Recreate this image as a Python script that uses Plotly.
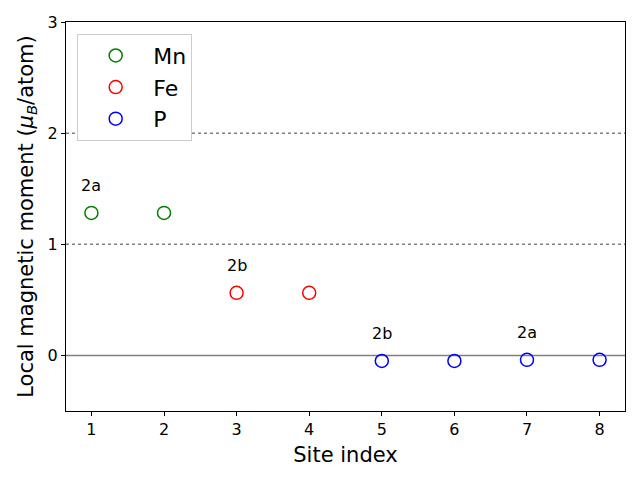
import plotly.graph_objects as go

mn_x = [1, 2]
mn_y = [1.282, 1.282]
fe_x = [3, 4]
fe_y = [0.563, 0.563]
p_x = [5, 6, 7, 8]
p_y = [-0.05, -0.05, -0.04, -0.04]

label_x = [1, 3, 5, 7]
label_y = [1.282, 0.563, -0.05, -0.04]
label_text = ["2a", "2b", "2b", "2a"]
label_offset = 0.25

fig = go.Figure()
for name, xs, ys, col in [("Mn", mn_x, mn_y, "green"), ("Fe", fe_x, fe_y, "red"), ("P", p_x, p_y, "blue")]:
    fig.add_trace(go.Scatter(x=xs, y=ys, mode="markers", name=name,
                             marker=dict(symbol="circle-open", size=13, color=col, line=dict(width=1.5, color=col))))

for lx, ly, lt in zip(label_x, label_y, label_text):
    fig.add_annotation(x=lx, y=ly + label_offset, text=lt, showarrow=False,
                       font=dict(size=16, color="black", family="DejaVu Sans"))

for yv, dash, w in [(0, "solid", 1.5), (1, "dot", 1.5), (2, "dot", 1.5)]:
    fig.add_shape(type="line", xref="paper", x0=0, x1=1, yref="y", y0=yv, y1=yv,
                  line=dict(color="gray", width=w, dash=dash), layer="below")

axis_common = dict(showline=True, linecolor="black", linewidth=1, mirror=True,
                   ticks="outside", ticklen=4, tickcolor="black", showgrid=False, zeroline=False,
                   tickfont=dict(size=16, family="DejaVu Sans", color="black"))

fig.update_layout(
    width=640, height=480,
    margin=dict(l=66, r=15, t=22, b=69),
    paper_bgcolor="white", plot_bgcolor="white",
    font=dict(family="DejaVu Sans", color="black"),
    xaxis=dict(range=[0.65, 8.35], tickvals=[1, 2, 3, 4, 5, 6, 7, 8],
               title=dict(text="Site index", font=dict(size=21), standoff=9), **axis_common),
    yaxis=dict(range=[-0.5, 3], tickvals=[0, 1, 2, 3],
               title=dict(text="Local magnetic moment (<i>μ<sub>B</sub></i>/atom)", font=dict(size=21), standoff=8),
               **axis_common),
    legend=dict(x=0.02, y=0.97, xanchor="left", yanchor="top", bgcolor="white",
                bordercolor="#cccccc", borderwidth=1, font=dict(size=22), itemwidth=65),
    showlegend=True,
)

fig.write_html("out.html")
